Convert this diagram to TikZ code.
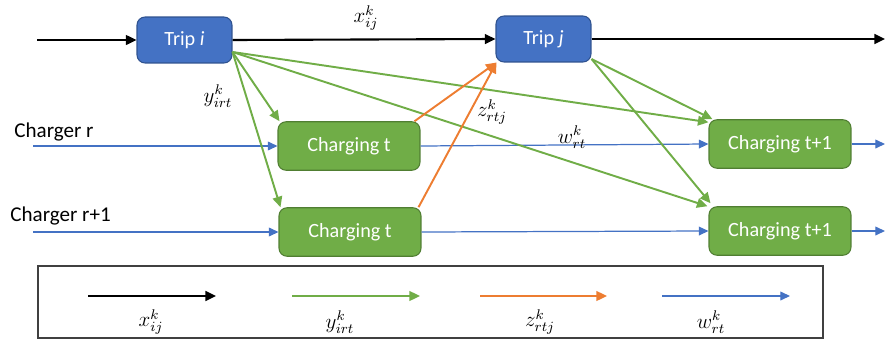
\documentclass[tikz,border=0pt]{standalone}
\usepackage{amsmath}
\usepackage{fontspec}
\newfontfamily\calibri{Carlito}
\usetikzlibrary{arrows.meta}
\definecolor{tripblue}{HTML}{4472C4}
\definecolor{tripedge}{HTML}{2F528F}
\definecolor{chggreen}{HTML}{70AD47}
\definecolor{chgedge}{HTML}{507E32}
\definecolor{zorange}{HTML}{ED7D31}
\definecolor{wblue}{HTML}{4472C4}

\begin{document}
\begin{tikzpicture}[x=0.02cm, y=-0.02cm,
  trip/.style = {draw=tripedge, fill=tripblue, rounded corners=0.16cm, line width=0.6pt,
    minimum width=1.9cm, minimum height=0.92cm, text=white, font=\calibri\fontsize{11.5}{13}\selectfont},
  chg/.style = {draw=chgedge, fill=chggreen, rounded corners=0.16cm, line width=0.6pt,
    minimum width=2.84cm, minimum height=0.97cm, text=white, font=\calibri\fontsize{11.5}{13}\selectfont},
  xarr/.style = {black, line width=1.2pt, -{Triangle[length=6pt,width=5.5pt]}},
  yarr/.style = {chggreen, line width=1.1pt, -{Triangle[length=6pt,width=5.5pt]}},
  zarr/.style = {zorange, line width=1.1pt, -{Triangle[length=6pt,width=5.5pt]}},
  warr/.style = {wblue, line width=0.7pt, -{Triangle[length=5.5pt,width=5pt]}},
  lab/.style = {font=\large, inner sep=1pt},
  side/.style = {font=\calibri\fontsize{12}{14}\selectfont, anchor=west, inner sep=0pt}]
\useasboundingbox (0,0) rectangle (890,345);

\node[trip] (ti) at (184.5,40) {Trip {\itshape i}};
\node[trip] (tj) at (543.5,39) {Trip {\itshape j}};
\node[chg] (c1) at (349,146) {Charging t};
\node[chg] (c2) at (350,232) {Charging t};
\node[chg] (c3) at (780,144) {Charging t+1};
\node[chg] (c4) at (780,231) {Charging t+1};

\node[side] (cr) at (14,132) {Charger r};
\node[side] (cr1) at (10,216) {Charger r+1};

\coordinate (xin) at (37,40);
\coordinate (xout) at (885,39);
\coordinate (win1) at (33,146);
\coordinate (win2) at (33,232);
\coordinate (wout1) at (885,144);
\coordinate (wout2) at (885,231);

\draw[xarr] (xin) -- (ti.west);
\draw[xarr] (ti.east) -- (tj.west);
\draw[xarr] (tj.east) -- (xout);

\draw[warr] (win1) -- (c1.west);
\draw[warr] (win2) -- (c2.west);
\draw[warr] (c1.east) -- (c3.west);
\draw[warr] (c2.east) -- (c4.west);
\draw[warr] (c3.east) -- (wout1);
\draw[warr] (c4.east) -- (wout2);

\draw[yarr] ([yshift=-0.24cm]ti.east) -- ([xshift=0.04cm]c1.north west);
\draw[yarr] ([yshift=-0.24cm]ti.east) -- ([xshift=0.04cm]c2.north west);
\draw[yarr] ([yshift=-0.24cm]ti.east) -- ([yshift=-0.06cm]c3.north west);
\draw[yarr] ([yshift=-0.24cm]ti.east) -- ([xshift=-0.02cm]c4.north west);
\draw[yarr] ([yshift=-0.4cm]tj.east) -- ([xshift=0.08cm]c3.north west);
\draw[yarr] ([yshift=-0.4cm]tj.east) -- ([xshift=0.04cm,yshift=0.06cm]c4.north west);

\draw[zarr] ([xshift=-0.12cm]c1.north east) -- ([xshift=0.02cm]tj.south west);
\draw[zarr] ([xshift=-0.06cm]c2.north east) -- ([xshift=0.02cm]tj.south west);

\node[lab] (xl) at (366,18) {$x_{ij}^k$};
\node[lab] (yl) at (218,96) {$y_{irt}^k$};
\node[lab] (zl) at (492,112) {$z_{rtj}^k$};
\node[lab] (wl) at (572,137) {$w_{rt}^k$};

\node[draw=black!75, line width=1pt, minimum width=15.7cm, minimum height=1.44cm] (legend) at (430.5,302) {};
\coordinate (lx1) at (88,296);  \coordinate (lx2) at (216,296);
\coordinate (ly1) at (292,296); \coordinate (ly2) at (420,296);
\coordinate (lz1) at (480,296); \coordinate (lz2) at (607,296);
\coordinate (lw1) at (662,296); \coordinate (lw2) at (790,296);
\draw[xarr] (lx1) -- (lx2);
\draw[yarr] (ly1) -- (ly2);
\draw[zarr] (lz1) -- (lz2);
\draw[warr] (lw1) -- (lw2);
\node[lab] (lxl) at (151,322) {$x_{ij}^k$};
\node[lab] (lyl) at (340,322) {$y_{irt}^k$};
\node[lab] (lzl) at (540,322) {$z_{rtj}^k$};
\node[lab] (lwl) at (711,322) {$w_{rt}^k$};
\end{tikzpicture}
\end{document}
